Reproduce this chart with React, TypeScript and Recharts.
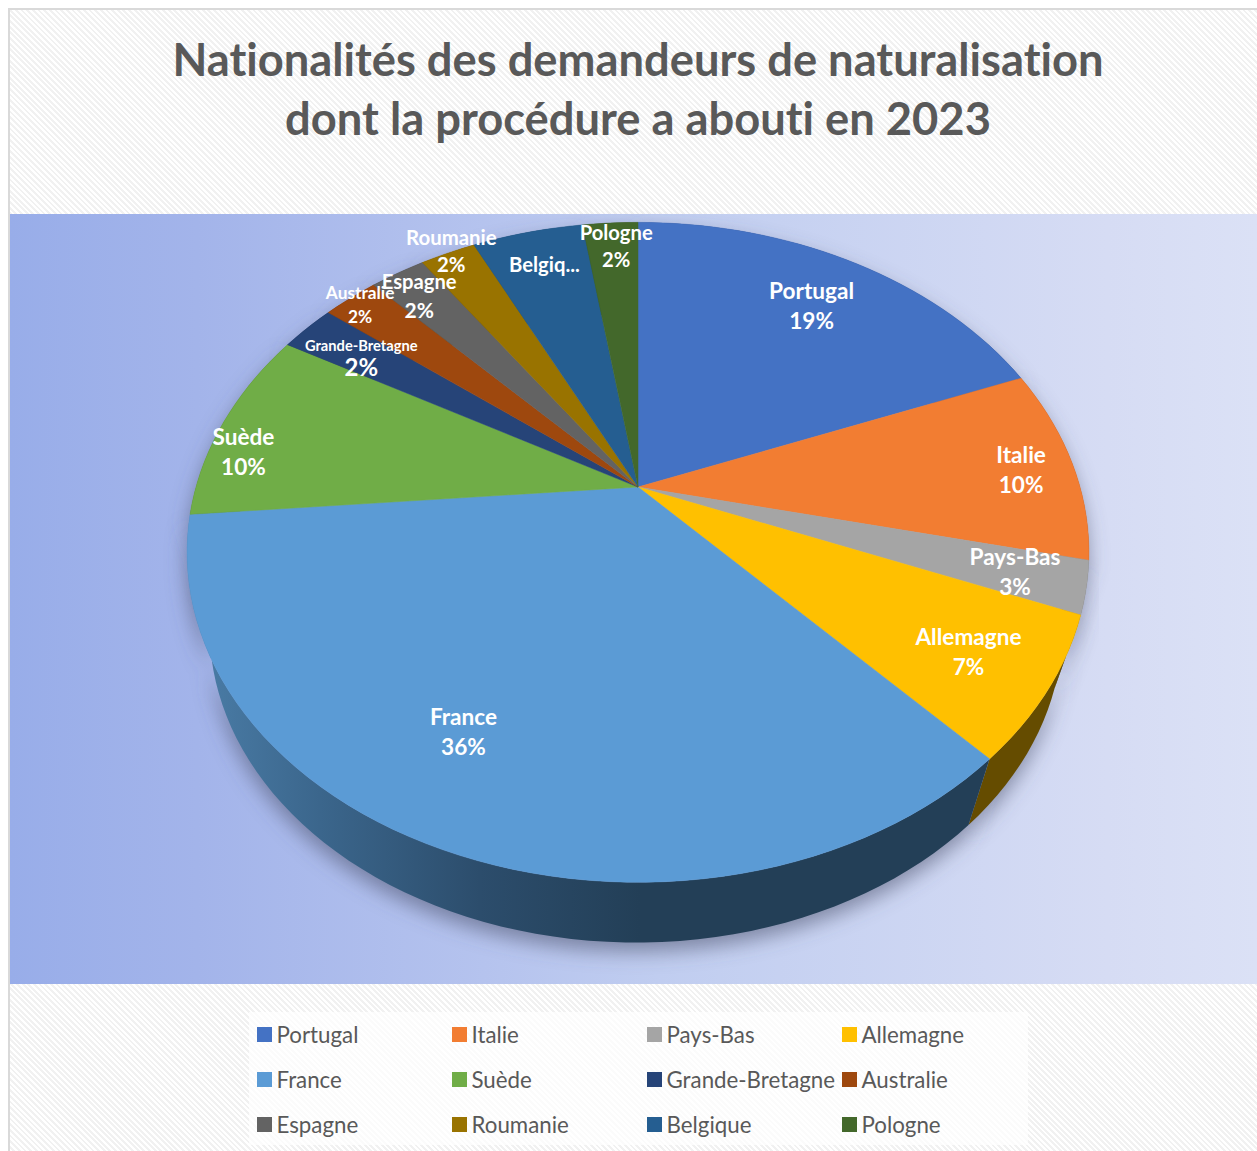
import React from 'react';
import { PieChart, Pie, Legend } from 'recharts';

const countries = ['Portugal', 'Italie', 'Pays-Bas', 'Allemagne', 'France', 'Suède', 'Grande-Bretagne', 'Australie', 'Espagne', 'Roumanie', 'Belgique', 'Pologne'];
const shares = [19, 9.55, 2.55, 7, 35.55, 9.55, 2.4, 2.4, 2.4, 2.4, 4.8, 2.4];
const faceColors = ['#4472C4', '#F27D32', '#A5A5A5', '#FFC000', '#5B9BD5', '#70AD47', '#264478', '#9E480E', '#636363', '#997300', '#255E91', '#43682B'];
const wallColors = ['#29447a', '#91491c', '#636363', '#654c00', 'url(#franceWall)', '#436a2b', '#172948', '#5f2b08', '#3b3b3b', '#5c4500', '#163858', '#28401a'];

// label placement, radius as a share of the pie and a small turn in degrees
const labelRadius = [0.782, 0.878, 0.849, 0.826, 0.753, 0.92, 0.816, 0.96, 0.886, 1.005, 0.852, 0.895];
const labelTurn = [0.3, 0.8, 0, 0.3, 5.9, -5.2, -0.5, -0.1, -0.5, 0.7, 0.5, 0.6];
const nameSizes = [22.6, 22.6, 22.6, 22.6, 22.6, 22.6, 14.7, 17.3, 20.2, 20.4, 20.3, 20.2];
const percentSizes = [22.6, 22.6, 22.6, 22.6, 22.6, 22.6, 24, 17.3, 21, 20.4, 20.3, 20.2];
const lineGaps = [29, 29, 29, 29, 29, 29, 20, 23, 27, 26, 26, 26];

const tableData = countries.map((name, i) => ({ name, value: shares[i], fill: faceColors[i] }));

// the pie is tilted: a circle seen in perspective, with the centre off the ellipse middle
const topFace = { x0: 638, y0: 487, a: 442, b: 317, k: -0.198 };
const bottomFace = { x0: 636, y0: 566, a: 418, b: 302, k: -0.198 };

type Face = typeof topFace;

const project = (deg: number, r: number, f: Face) => {
  const u = r * Math.cos((deg * Math.PI) / 180);
  const v = -r * Math.sin((deg * Math.PI) / 180);
  const d = 1 + f.k * v;
  return { x: f.x0 + (f.a * u) / d, y: f.y0 + (f.b * v) / d };
};

const arcPoints = (from: number, to: number, f: Face) => {
  const steps = Math.max(2, Math.ceil(Math.abs(to - from) / 2));
  const pts: string[] = [];
  for (let i = 0; i <= steps; i++) {
    const p = project(from + ((to - from) * i) / steps, 1, f);
    pts.push(`${p.x.toFixed(2)},${p.y.toFixed(2)}`);
  }
  return pts;
};

const FaceShape = (props: any) => {
  const d = `M${topFace.x0},${topFace.y0} L${arcPoints(props.startAngle, props.endAngle, topFace).join(' L')} Z`;
  return <path d={d} fill={props.fill} stroke={props.fill} strokeWidth={0.5} />;
};

const wallPath = (props: any) => {
  const upper = arcPoints(props.startAngle, props.endAngle, topFace);
  const lower = arcPoints(props.endAngle, props.startAngle, bottomFace);
  return `M${upper.join(' L')} L${lower.join(' L')} Z`;
};

const WallShape = (props: any) => <path d={wallPath(props)} fill={wallColors[props.index ?? countries.indexOf(props.name)]} stroke="none" />;

const ShadowShape = (props: any) => (
  <path d={wallPath(props)} fill="#50556f" fillOpacity={0.6} stroke="none" filter="url(#pieShadow)" transform="translate(-1,9)" />
);

const renderLabel = (props: any) => {
  const i = countries.indexOf(props.name);
  const p = project(props.midAngle - labelTurn[i], labelRadius[i], topFace);
  const gap = lineGaps[i];
  const common = { textAnchor: 'middle' as const, dominantBaseline: 'central' as const, fill: '#fff', fontWeight: 700 };
  if (props.name === 'Belgique') {
    // cut short in the original, no percentage either
    return <text x={p.x} y={p.y} fontSize={nameSizes[i]} {...common}>Belgiq...</text>;
  }
  return (
    <g>
      <text x={p.x} y={p.y - gap / 2 - 1} fontSize={nameSizes[i]} {...common}>{props.name}</text>
      <text x={p.x} y={p.y + gap / 2} fontSize={percentSizes[i]} {...common}>{Math.round(props.percent * 100)}%</text>
    </g>
  );
};

const renderLegend = () => (
  <div style={{ display: 'grid', gridTemplateColumns: 'repeat(4, 195px)', gridAutoRows: '45px', paddingLeft: 8 }}>
    {tableData.map((entry) => (
      <div key={entry.name} style={{ display: 'flex', alignItems: 'center', height: 45, whiteSpace: 'nowrap' }}>
        <span style={{ width: 15, height: 15, background: entry.fill, marginRight: 5, flex: 'none' }} />
        <span style={{ fontSize: 22.3, color: '#595959' }}>{entry.name}</span>
      </div>
    ))}
  </div>
);

const hatch = 'repeating-linear-gradient(45deg, #ffffff 0 2px, #f1f1f1 2px 4px)';

export default function App() {
  return (
    <div style={{ position: 'absolute', left: 0, top: 0, width: 1257, height: 1151, background: '#fff', overflow: 'hidden', fontFamily: 'Lato, sans-serif', fontVariantLigatures: 'none' }}>
      <div style={{ position: 'absolute', left: 8, top: 8, right: 0, bottom: 0, borderLeft: '2px solid #d9d9d9', borderTop: '2px solid #d9d9d9', backgroundImage: hatch }} />
      <div style={{ position: 'absolute', left: 10, top: 214, width: 1247, height: 770, background: 'linear-gradient(90deg, #98ade9 0%, #a3b4ea 15%, #b5c3ee 38%, #c0cdf0 52%, #d6dcf4 88%, #dbe1f6 100%)' }} />
      <div style={{ position: 'absolute', left: 249, top: 1012, width: 779, height: 133, background: 'rgba(255,255,255,0.72)' }} />
      <div style={{ position: 'absolute', left: 0, width: 1276, top: 29, textAlign: 'center', fontSize: 45.3, lineHeight: '59px', fontWeight: 700, color: '#595959' }}>
        Nationalités des demandeurs de naturalisation
        <br />
        dont la procédure a abouti en 2023
      </div>
      <PieChart width={1257} height={1151} margin={{ top: 0, right: 0, bottom: 0, left: 0 }} style={{ position: 'absolute', left: 0, top: 0 }}>
        <defs>
          <linearGradient id="franceWall" gradientUnits="userSpaceOnUse" x1="200" y1="0" x2="1000" y2="0">
            <stop offset="0" stopColor="#4a7ca6" />
            <stop offset="0.15" stopColor="#3b668c" />
            <stop offset="0.35" stopColor="#2c4d6c" />
            <stop offset="0.55" stopColor="#233f57" />
            <stop offset="1" stopColor="#233f57" />
          </linearGradient>
          <filter id="pieShadow" x="-30%" y="-30%" width="160%" height="160%">
            <feGaussianBlur stdDeviation="10" />
          </filter>
        </defs>
        <Pie data={tableData} dataKey="value" nameKey="name" cx={638} cy={487} outerRadius={330} startAngle={90} endAngle={-270} stroke="none" legendType="none" label={false} labelLine={false} isAnimationActive={false} shape={ShadowShape} />
        <Pie data={tableData} dataKey="value" nameKey="name" cx={638} cy={487} outerRadius={330} startAngle={90} endAngle={-270} stroke="none" legendType="none" label={false} labelLine={false} isAnimationActive={false} shape={WallShape} />
        <Pie data={tableData} dataKey="value" nameKey="name" cx={638} cy={487} outerRadius={330} startAngle={90} endAngle={-270} stroke="none" label={renderLabel} labelLine={false} isAnimationActive={false} shape={FaceShape} />
        <Legend content={renderLegend} wrapperStyle={{ position: 'absolute', left: 248.5, top: 1012, width: 779, height: 135 }} />
      </PieChart>
    </div>
  );
}
